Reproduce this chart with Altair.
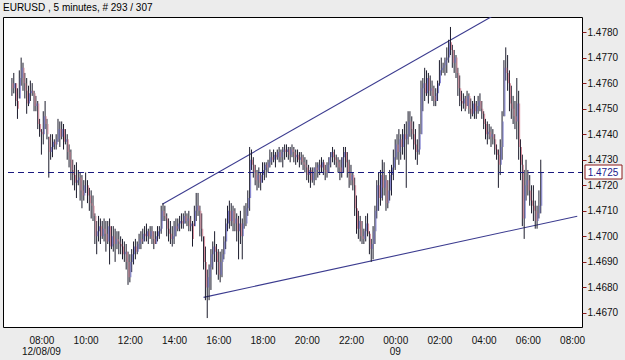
import altair as alt
import pandas as pd
import numpy as np

# EURUSD 5-minute bars, prices in pips above 1.4000 (e.g. 762 -> 1.4762)
HIGH = [762,764,760,758,765,770,768,764,762,759,
        761,760,757,755,753,746,742,749,753,746,
        739,740,740,738,740,746,745,745,744,742,
        740,736,734,730,728,729,726,725,724,722,
        725,722,719,718,716,709,706,708,707,706,
        707,706,706,707,704,704,703,702,702,700,
        699,698,697,694,693,695,698,699,698,701,
        702,703,704,705,703,704,704,702,702,704,
        704,712,713,712,709,707,706,704,706,707,
        707,708,709,709,710,709,710,708,706,712,
        717,717,712,709,700,696,687,689,695,698,
        702,697,695,694,695,700,707,712,714,713,
        712,711,709,708,710,707,712,713,718,735,
        734,731,728,726,727,725,729,729,729,730,
        734,733,734,733,734,735,734,735,736,736,
        735,735,736,735,734,734,733,733,732,731,
        730,728,727,727,727,729,729,730,731,730,
        728,729,731,733,735,734,732,731,730,731,
        735,735,733,730,728,725,723,716,710,708,
        706,703,708,709,702,699,704,712,722,725,
        726,730,729,724,722,726,728,734,738,740,
        742,740,742,744,745,749,749,747,745,742,
        738,744,761,762,766,765,764,763,761,759,
        758,761,769,770,768,770,774,777,782,775,
        773,771,766,763,757,756,755,757,756,754,
        753,755,753,755,756,753,749,746,745,744,
        743,742,740,736,734,738,749,769,774,771,
        765,759,755,753,762,757,738,732,726,730,
        726,724,720,720,714,712,718,730]
LOW = [755,756,751,746,754,759,757,754,748,751,
       753,755,749,749,742,739,732,736,742,738,
       723,730,731,734,734,737,735,738,734,736,
       730,727,722,720,718,715,720,714,711,714,
       717,713,710,707,706,697,693,698,697,699,
       698,694,697,689,695,694,690,695,693,693,
       691,690,687,681,682,686,689,691,693,695,
       695,697,698,698,697,699,697,695,697,698,
       699,701,706,706,700,698,697,696,697,700,
       702,702,703,703,705,704,702,702,696,704,
       706,708,700,698,687,675,668,675,679,687,
       690,685,683,682,684,691,695,702,703,704,
       702,702,698,691,697,691,703,704,708,710,
       726,723,720,718,719,718,721,722,723,725,
       727,728,729,727,730,729,729,727,730,731,
       730,729,731,729,728,729,727,728,726,725,
       722,721,719,721,720,722,723,724,725,724,
       722,723,725,727,729,728,727,725,722,723,
       725,727,723,719,720,718,708,701,699,698,
       697,697,698,700,693,690,691,697,707,710,
       712,714,716,710,711,714,716,722,726,730,
       728,730,732,730,719,736,739,738,734,730,
       728,732,740,749,753,755,752,755,753,751,
       751,753,759,763,764,763,764,768,771,766,
       764,762,755,751,749,750,749,751,748,746,
       747,746,746,748,749,746,742,738,736,738,
       735,736,732,730,719,724,730,747,761,757,
       749,746,744,742,738,730,722,704,699,714,
       716,712,709,706,703,703,707,709]
CLOSE = [758,760,753,750,762,766,760,757,752,756,
         757,756,751,752,744,741,740,747,744,740,
         733,735,737,736,738,742,739,742,737,738,
         733,730,726,724,721,722,723,718,716,720,
         720,716,713,712,708,700,702,704,700,703,
         701,698,704,696,700,697,699,698,697,696,
         693,694,690,684,690,693,696,694,697,699,
         698,701,700,702,700,702,699,697,700,702,
         703,710,708,707,703,701,699,700,704,703,
         705,706,705,708,706,707,704,705,699,710,
         712,710,703,700,690,680,684,688,693,696,
         694,690,685,690,693,698,705,710,706,710,
         705,707,702,705,700,705,705,711,715,730,
         728,725,722,724,721,724,726,728,727,729,
         731,730,732,731,733,731,733,734,733,734,
         732,734,733,731,732,730,731,729,728,727,
         724,726,722,725,727,726,728,727,729,726,
         725,728,731,733,731,730,729,727,725,731,
         733,729,725,722,724,720,711,703,706,700,
         699,702,705,701,695,697,702,710,720,715,
         724,719,722,713,718,724,727,731,736,733,
         738,735,740,738,740,745,742,740,736,733,
         734,740,758,760,756,762,757,758,755,753,
         756,760,765,766,767,769,770,776,773,768,
         770,764,758,753,752,754,750,755,750,748,
         752,749,751,753,750,748,744,740,741,739,
         740,738,734,732,728,735,745,766,764,760,
         752,750,747,745,752,735,728,707,720,722,
         718,714,712,710,706,709,712,725]
FIRST_OPEN = 760
FIRST_BAR_HOUR = 6 + 40 / 60          # 06:40 on 12/08/09, hours since midnight
BAR_MINUTES = 5
CURRENT = 1.4725
Y_TICKS = [1.4670, 1.4680, 1.4690, 1.4700, 1.4710, 1.4720, 1.4730,
           1.4740, 1.4750, 1.4760, 1.4770, 1.4780]
X_TICKS = [8, 10, 12, 14, 16, 18, 20, 22, 24, 26, 28, 30, 32]   # hours since 12/08 00:00
UPPER_LINE_H = [13 + 28 / 60, 28 + 21 / 60]
UPPER_LINE_P = [1.47126, 1.47860]
LOWER_LINE_H = [15 + 20 / 60, 32 + 14 / 60]
LOWER_LINE_P = [1.46761, 1.47079]
DATE_H = [8, 24]
DATE_S = ["12/08/09", "09"]
HEADER = "EURUSD , 5 minutes, # 293 / 307"

n = len(HIGH)
hi = 1.4 + np.array(HIGH) / 10000
lo = 1.4 + np.array(LOW) / 10000
cl = 1.4 + np.array(CLOSE) / 10000
op = np.concatenate([[1.4 + FIRST_OPEN / 10000], cl[:-1]])
op = np.clip(op, lo, hi)
hours = FIRST_BAR_HOUR + np.arange(n) * BAR_MINUTES / 60
bars = pd.DataFrame({"h": hours, "high": hi, "low": lo, "open": op, "close": cl,
                     "dir": np.where(cl >= op, "up", "down")})

FONT = "Liberation Sans"
FS = 10
xscale = alt.Scale(domain=[6 + 29.33 / 60, 32 + 13.33 / 60], nice=False, zero=False)
yscale = alt.Scale(domain=[1.46645, 1.47859], nice=False, zero=False)
X_AX = alt.Axis(title=None, values=X_TICKS,
                labelExpr="(datum.value % 24 < 10 ? '0' : '') + (datum.value % 24) + ':00'",
                ticks=False, domain=False, grid=False, labelFont=FONT, labelFontSize=FS,
                labelColor="#111111", labelPadding=8, labelFlush=False, labelOverlap=False)
Y_AX = alt.Axis(title=None, orient="right", values=Y_TICKS, format=".4f", domain=False,
                grid=False, tickColor="#8b1a1a", tickSize=4, labelPadding=1,
                labelFont=FONT, labelFontSize=FS, labelColor="#111111")

base = alt.Chart(bars)
wicks = base.mark_rule(color="#1c1c2c", strokeWidth=1).encode(
    x=alt.X("h:Q", scale=xscale, axis=X_AX),
    y=alt.Y("low:Q", scale=yscale, axis=Y_AX),
    y2="high:Q")
bodies = base.mark_bar(width=1, xOffset=1, opacity=0.85).encode(
    x=alt.X("h:Q", scale=xscale, axis=X_AX),
    y=alt.Y("open:Q", scale=yscale, axis=Y_AX),
    y2="close:Q",
    color=alt.Color("dir:N", scale=alt.Scale(domain=["up", "down"],
                                             range=["#6a6ac8", "#d27a8c"]), legend=None))

tl = pd.DataFrame({"h": UPPER_LINE_H + LOWER_LINE_H, "p": UPPER_LINE_P + LOWER_LINE_P,
                   "id": ["u", "u", "l", "l"]})
trend = alt.Chart(tl).mark_line(color="#3b3b8f", strokeWidth=1.1, clip=True).encode(
    x=alt.X("h:Q", scale=xscale, axis=X_AX),
    y=alt.Y("p:Q", scale=yscale, axis=Y_AX),
    detail="id:N")

cur = pd.DataFrame({"p": [CURRENT], "s": [f"{CURRENT:.4f}"]})
dash = alt.Chart(cur).mark_rule(color="#1a1a80", strokeWidth=1.2, strokeDash=[6, 4]).encode(
    y=alt.Y("p:Q", scale=yscale, axis=Y_AX), x=alt.value(5), x2=alt.value(579))
box = alt.Chart(cur).mark_rect(fill="white", stroke="#8b1a1a", strokeWidth=1).encode(
    x=alt.value(582), x2=alt.value(619), y=alt.value(148), y2=alt.value(162))
boxtxt = alt.Chart(cur).mark_text(font=FONT, fontSize=FS, color="#1a1a8c",
                                  align="center", baseline="middle").encode(
    x=alt.value(600), y=alt.value(155.5), text="s:N")

dates = pd.DataFrame({"h": DATE_H, "s": DATE_S})
datetxt = alt.Chart(dates).mark_text(font=FONT, fontSize=FS, color="#111111",
                                     align="center", baseline="middle").encode(
    x=alt.X("h:Q", scale=xscale, axis=X_AX), y=alt.value(335), text="s:N")

hdr = alt.Chart(pd.DataFrame({"s": [HEADER]})).mark_text(
    font=FONT, fontSize=FS, color="#000000", align="left", baseline="middle").encode(
    x=alt.value(0), y=alt.value(-9), text="s:N")

chart = alt.layer(trend, wicks, bodies, dash, box, boxtxt, datetxt, hdr).properties(
    width=579, height=310, autosize="none",
    padding={"left": 3, "top": 17, "right": 43, "bottom": 33},
    background="#ececec"
).configure_view(fill="white", stroke="#000000", strokeWidth=1)

chart.save("out.html", embed_options={"renderer": "svg", "actions": False})
